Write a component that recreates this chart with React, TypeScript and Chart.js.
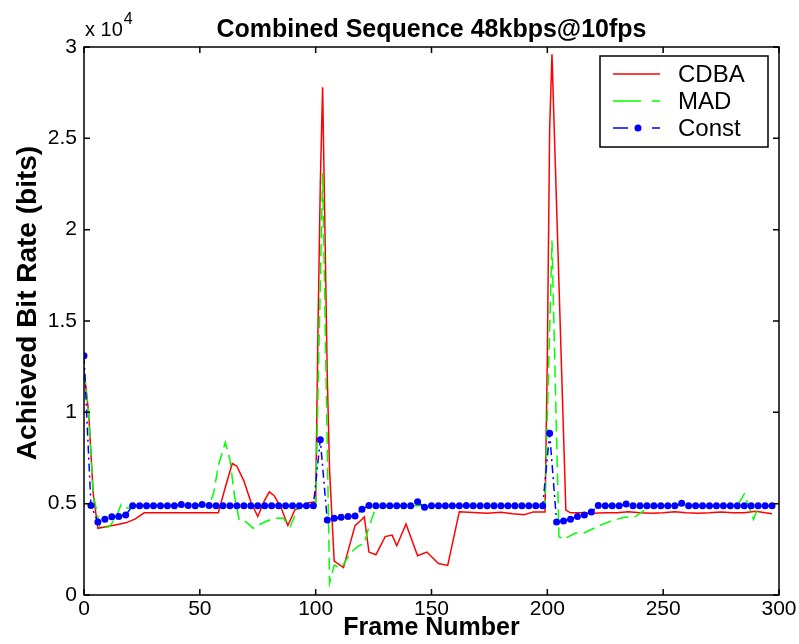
import React, { useEffect, useRef } from "react";
import { Chart, registerables } from "chart.js";

Chart.register(...registerables);

const titleText = "Combined Sequence 48kbps@10fps";
const xTitle = "Frame Number";
const yTitle = "Achieved Bit Rate (bits)";
const seriesNames = ["CDBA", "MAD", "Const"];
const xTickValues = [0, 50, 100, 150, 200, 250, 300];
const yTickValues = [0, 5000, 10000, 15000, 20000, 25000, 30000];

const cdbaFrames = [0, 2, 4, 6, 10, 14, 18, 22, 26, 35, 45, 58, 61, 64, 66, 69, 72, 75, 78, 80, 82, 85, 88, 91, 94, 97, 100, 101, 102, 103, 104, 105, 106, 108, 112, 117, 120, 121, 123, 126, 130, 133, 135, 139, 144, 148, 153, 157, 162, 170, 174, 180, 185, 190, 194, 199, 200, 201, 202, 208, 210, 215, 220, 225, 230, 235, 240, 245, 250, 255, 260, 265, 270, 275, 280, 285, 290, 294, 297];
const cdbaValues = [12300, 10000, 5500, 3650, 3750, 3850, 3950, 4150, 4500, 4500, 4500, 4500, 5900, 7200, 7050, 6250, 5100, 4300, 5200, 5650, 5450, 4800, 3800, 4650, 4870, 5050, 5100, 14500, 22500, 27800, 20000, 12000, 6850, 1850, 1500, 3800, 4150, 4280, 2350, 2200, 3200, 3280, 2700, 3890, 2150, 2350, 1720, 1620, 4560, 4500, 4470, 4530, 4450, 4400, 4550, 4550, 13000, 25500, 29600, 4650, 4500, 4500, 4480, 4500, 4500, 4560, 4500, 4480, 4500, 4560, 4500, 4480, 4500, 4550, 4500, 4500, 4580, 4500, 4450];

const madFrames = [0, 2, 4, 7, 11, 14, 16, 19, 21, 30, 40, 50, 54, 56, 58, 61, 63, 65, 67, 70, 73, 77, 82, 86, 89, 92, 94, 100, 103, 106, 108, 111, 115, 118, 121, 123, 126, 129, 140, 150, 160, 170, 180, 190, 199, 202, 205, 207, 212, 216, 223, 228, 233, 238, 243, 246, 255, 265, 275, 282, 285, 289, 291, 294, 297];
const madValues = [12200, 10000, 5500, 3650, 3740, 4290, 4960, 4740, 4900, 4880, 4880, 4880, 4900, 5600, 7100, 8350, 7400, 5400, 4100, 4000, 3650, 3940, 4200, 4200, 3740, 4650, 4880, 4880, 23100, 650, 1640, 1460, 2280, 2650, 2830, 3740, 4800, 4880, 4880, 4880, 4880, 4880, 4880, 4880, 4880, 19400, 3200, 3050, 3380, 3410, 3830, 4070, 4250, 4290, 4740, 4880, 4880, 4880, 4880, 4880, 5530, 4140, 4830, 4880, 4880];

const constFrames = [0, 3, 6, 9, 12, 15, 18, 21, 24, 27, 30, 33, 36, 39, 42, 45, 48, 51, 54, 57, 60, 63, 66, 69, 72, 75, 78, 81, 84, 87, 90, 93, 96, 99, 102, 105, 108, 111, 114, 117, 120, 123, 126, 129, 132, 135, 138, 141, 144, 147, 150, 153, 156, 159, 162, 165, 168, 171, 174, 177, 180, 183, 186, 189, 192, 195, 198, 201, 204, 207, 210, 213, 216, 219, 222, 225, 228, 231, 234, 237, 240, 243, 246, 249, 252, 255, 258, 261, 264, 267, 270, 273, 276, 279, 282, 285, 288, 291, 294, 297];
const constValues = [
  13100, 4900, 4000, 4150, 4280, 4300, 4380, 4880, 4880, 4880,
  4880, 4880, 4880, 4880, 4960, 4900, 4880, 4960, 4900, 4880,
  4880, 4880, 4880, 4880, 4880, 4880, 4880, 4880, 4880, 4880,
  4880, 4880, 4880, 4880, 8500, 4100, 4200, 4250, 4300, 4320,
  4700, 4900, 4880, 4880, 4880, 4880, 4880, 4880, 5100, 4800,
  4880, 4880, 4880, 4880, 4880, 4900, 4880, 4880, 4880, 4880,
  4880, 4880, 4880, 4880, 4880, 4880, 4880, 8850, 4000, 4050,
  4150, 4300, 4380, 4550, 4900, 4880, 4880, 4880, 4980, 4880,
  4880, 4880, 4880, 4880, 4880, 4880, 5020, 4880, 4880, 4880,
  4880, 4880, 4880, 4880, 4880, 4880, 4880, 4880, 4880, 4880,
];

const FONT = "'Liberation Sans', Arial, sans-serif";

const toPoints = (xs: number[], ys: number[]) => xs.map((x, i) => ({ x, y: ys[i] }));

const decorPlugin = {
  id: "matlabDecor",
  afterDatasetsDraw(chart: any) {
    const { ctx, chartArea } = chart;
    const { left, right, top, bottom } = chartArea;
    const xs = chart.scales.x;
    const ys = chart.scales.y;
    ctx.save();
    // box
    ctx.strokeStyle = "#000";
    ctx.lineWidth = 1.5;
    ctx.setLineDash([]);
    ctx.strokeRect(left, top, right - left, bottom - top);
    const tl = 6;
    ctx.beginPath();
    xTickValues.forEach((v) => {
      const p = xs.getPixelForValue(v);
      ctx.moveTo(p, bottom);
      ctx.lineTo(p, bottom - tl);
      ctx.moveTo(p, top);
      ctx.lineTo(p, top + tl);
    });
    yTickValues.forEach((v) => {
      const p = ys.getPixelForValue(v);
      ctx.moveTo(left, p);
      ctx.lineTo(left + tl, p);
      ctx.moveTo(right, p);
      ctx.lineTo(right - tl, p);
    });
    ctx.stroke();

    // legend
    const bw = 168, bh = 91;
    const bx = right - 11 - bw;
    const by = top + 9;
    ctx.fillStyle = "#fff";
    ctx.fillRect(bx, by, bw, bh);
    ctx.strokeStyle = "#000";
    ctx.lineWidth = 1.5;
    ctx.strokeRect(bx, by, bw, bh);
    const ds = chart.data.datasets;
    const dashes = [[], [28, 11], [15, 24]];
    seriesNames.forEach((name, i) => {
      const yy = by + 18 + i * 27;
      const x1 = bx + 13, x2 = bx + 60;
      ctx.strokeStyle = ds[i].borderColor;
      ctx.lineWidth = 1.5;
      ctx.setLineDash(dashes[i]);
      ctx.beginPath();
      ctx.moveTo(x1, yy);
      ctx.lineTo(x2, yy);
      ctx.stroke();
      ctx.setLineDash([]);
      if (i === 2) {
        ctx.fillStyle = ds[i].borderColor;
        ctx.beginPath();
        ctx.arc(bx + 38, yy, 3.5, 0, Math.PI * 2);
        ctx.fill();
      }
      ctx.fillStyle = "#000";
      ctx.font = `24px ${FONT}`;
      ctx.textAlign = "left";
      ctx.textBaseline = "middle";
      ctx.fillText(name, bx + 78, yy + 1);
    });

    // title
    ctx.fillStyle = "#000";
    ctx.font = `bold 25px ${FONT}`;
    ctx.textAlign = "center";
    ctx.textBaseline = "alphabetic";
    ctx.fillText(titleText, (left + right) / 2, 37);

    // y axis title
    ctx.save();
    ctx.translate(28, 303);
    ctx.rotate(-Math.PI / 2);
    ctx.font = `bold 28px ${FONT}`;
    ctx.textAlign = "center";
    ctx.textBaseline = "middle";
    ctx.fillText(yTitle, 0, 0);
    ctx.restore();

    // exponent label
    ctx.font = `20px ${FONT}`;
    ctx.textAlign = "left";
    ctx.textBaseline = "alphabetic";
    ctx.fillText("x 10", left + 1, 36);
    const w = ctx.measureText("x 10").width;
    ctx.font = `16px ${FONT}`;
    ctx.fillText("4", left + 2 + w, 24);
    ctx.restore();
  },
};

export default function App() {
  const ref = useRef<HTMLCanvasElement | null>(null);
  useEffect(() => {
    if (!ref.current) return;
    const chart = new Chart(ref.current, {
      type: "line",
      data: {
        datasets: [
          {
            label: seriesNames[0],
            data: toPoints(cdbaFrames, cdbaValues),
            borderColor: "#ff0000",
            borderWidth: 1.5,
            pointRadius: 0,
            tension: 0,
            order: 3,
          },
          {
            label: seriesNames[1],
            data: toPoints(madFrames, madValues),
            borderColor: "#00ff00",
            borderWidth: 1.5,
            borderDash: [12, 6],
            pointRadius: 0,
            tension: 0,
            order: 2,
          },
          {
            label: seriesNames[2],
            data: toPoints(constFrames, constValues),
            borderColor: "#0000ff",
            borderWidth: 1.5,
            borderDash: [8, 4, 2, 4],
            pointRadius: 3.5,
            pointBackgroundColor: "#0000ff",
            pointBorderWidth: 0,
            tension: 0,
            order: 1,
          },
        ],
      } as any,
      options: {
        animation: false,
        responsive: false,
        devicePixelRatio: 1,
        layout: { padding: { top: 47, right: 20, left: 0, bottom: 0 } },
        plugins: {
          legend: { display: false },
          title: { display: false },
          tooltip: { enabled: false },
        },
        scales: {
          x: {
            type: "linear",
            min: 0,
            max: 300,
            afterBuildTicks: (s: any) => {
              s.ticks = xTickValues.map((v) => ({ value: v }));
            },
            afterFit: (s: any) => {
              s.height = 49;
            },
            grid: { display: false, drawTicks: false },
            border: { display: false },
            ticks: {
              color: "#000",
              padding: 2,
              maxRotation: 0,
              autoSkip: false,
              font: { family: FONT, size: 21 },
              callback: (v: any) => String(v),
            },
            title: {
              display: true,
              text: xTitle,
              color: "#000",
              font: { family: FONT, size: 25, weight: "bold" },
              padding: { top: 0, bottom: 1 },
            },
          },
          y: {
            type: "linear",
            min: 0,
            max: 30000,
            afterBuildTicks: (s: any) => {
              s.ticks = yTickValues.map((v) => ({ value: v }));
            },
            afterFit: (s: any) => {
              s.width = 84;
            },
            grid: { display: false, drawTicks: false },
            border: { display: false },
            ticks: {
              color: "#000",
              padding: 7,
              autoSkip: false,
              font: { family: FONT, size: 21 },
              callback: (v: any) => String(Number(v) / 10000),
            },
          },
        },
      } as any,
      plugins: [decorPlugin],
    });
    return () => chart.destroy();
  }, []);
  return (
    <div style={{ position: "fixed", left: 0, top: 0, width: 799, height: 644, background: "#fff" }}>
      <canvas ref={ref} width={799} height={644} style={{ width: 799, height: 644, display: "block" }} />
    </div>
  );
}
